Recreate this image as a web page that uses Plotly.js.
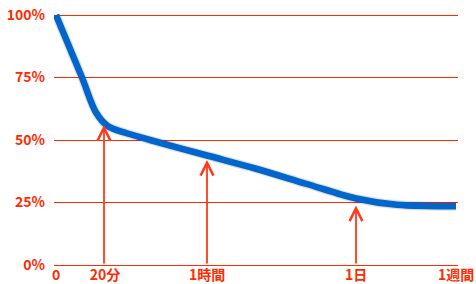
<!DOCTYPE html>
<html>
<head>
<meta charset="utf-8">
<script src="https://cdn.plot.ly/plotly-3.0.1.min.js"></script>
<style>html,body{margin:0;padding:0;background:#fff;}#chart{width:476px;height:284px;}</style>
</head>
<body>
<div id="chart"></div>
<script>
// Chart position along the (non-linear) time axis, and retention in %
const timePos   = [0, 26, 40, 52, 70, 94, 151, 200, 250, 300, 341, 400];
const retention = [100, 75, 61, 55.5, 52.8, 50, 43.8, 38.5, 32.5, 26.6, 24.1, 23.5];

const xTickVals = [0, 49, 151, 300, 400];
const xTickText = ['0', '20分', '1時間', '1日', '1週間'];

const yTickVals = [0, 25, 50, 75, 100];
const yTickText = ['0%', '25%', '50%', '75%', '100%'];

// Arrows: position on time axis and tip height (%)
const arrowX   = [48, 151, 300];
const arrowTip = [56, 42, 23.8];

const red = '#ff2a00';
const font = {family: '"Noto Sans CJK JP", "Noto Sans", sans-serif', size: 14, color: red, weight: 'bold'};

const annotations = arrowX.map((x, i) => ({
  x: x, y: arrowTip[i], ax: x, ay: 0, xref: 'x', yref: 'y', axref: 'x', ayref: 'y',
  text: '', showarrow: true, arrowhead: 5, arrowsize: 1.4, arrowwidth: 1.8,
  arrowcolor: '#ff3a1a', standoff: 0
}));

const traces = [
  {x: timePos, y: retention, type: 'scatter', mode: 'lines',
   line: {shape: 'spline', smoothing: 0.9, color: 'rgba(0,0,0,0.12)', width: 9},
   hoverinfo: 'skip', showlegend: false},
  {x: timePos, y: retention, type: 'scatter', mode: 'lines',
   line: {shape: 'spline', smoothing: 0.9, color: '#0066cc', width: 6.5},
   showlegend: false}
];

const layout = {
  width: 476, height: 284,
  margin: {l: 54, r: 18, t: 5, b: 19},
  paper_bgcolor: '#fff', plot_bgcolor: '#fff',
  showlegend: false,
  font: font,
  xaxis: {range: [-2, 402], tickvals: xTickVals, ticktext: xTickText, showgrid: false,
          zeroline: false, showline: false, ticks: '', tickfont: font, fixedrange: true},
  yaxis: {range: [0, 104], tickvals: yTickVals, ticktext: yTickText, showgrid: true,
          gridcolor: red, gridwidth: 1, zeroline: true, zerolinecolor: red, zerolinewidth: 1,
          showline: false, ticks: '', tickfont: font, fixedrange: true,
          ticklabelstandoff: 8},
  annotations: annotations
};

Plotly.newPlot('chart', traces, layout, {displayModeBar: false, staticPlot: true});
</script>
</body>
</html>
